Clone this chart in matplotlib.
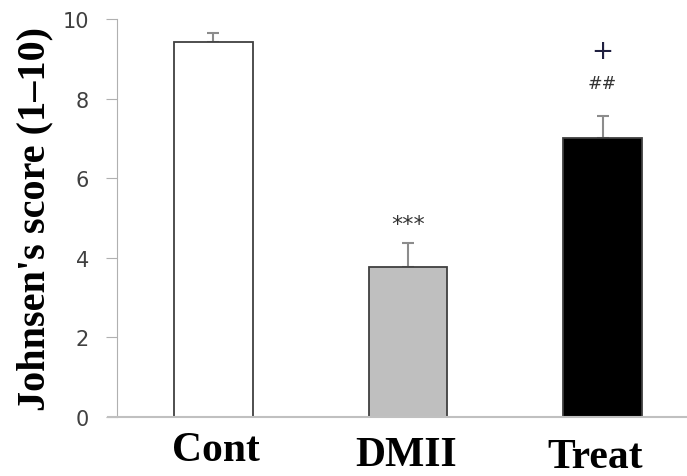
import numpy as np
import matplotlib.pyplot as plt
import matplotlib.transforms as mtransforms

# data
groups = ['Cont', 'DMII', 'Treat']
scores = [9.42, 3.78, 7.0]
errors = [0.23, 0.6, 0.56]
colors = ['white', '#bfbfbf', 'black']
marks = ['', '***', '##']

fig = plt.figure(figsize=(6.87, 4.77), dpi=100)
ax = fig.add_axes([108 / 687, 1 - 418 / 477, 1 - 108 / 687, (418 - 20) / 477])

x = np.arange(len(groups))
ax.bar(x, scores, width=0.405, color=colors, edgecolor='#404040', linewidth=1.3, zorder=2)
ax.errorbar(x, scores, yerr=[[0, 0, 0], errors], fmt='none', ecolor='#8c8c8c',
            elinewidth=1.5, capsize=4, capthick=1.5, zorder=1)

ax.set_xlim(-0.542, 2.434)
ax.set_ylim(0, 10)
ax.set_yticks([0, 2, 4, 6, 8, 10])

for s in ['top', 'right']:
    ax.spines[s].set_visible(False)
ax.spines['left'].set_position(('axes', 0.0155))
ax.spines['left'].set_color('#b0b0b0')
ax.spines['bottom'].set_color('#c0c0c0')
ax.spines['bottom'].set_linewidth(1.5)
ax.tick_params(axis='y', colors='#b0b0b0', length=8, labelcolor='#404040', labelsize=15, pad=12)
ax.tick_params(axis='x', length=0, pad=10)

ax.set_xticks(x)
ax.set_xticklabels(groups, fontfamily='Liberation Serif', fontweight='bold', fontsize=30)
# labels are not quite aligned in the original
shifts = [(2, 0), (-2, -5), (-7, -7)]
for lab, (dx, dy) in zip(ax.get_xticklabels(), shifts):
    lab.set_transform(lab.get_transform() + mtransforms.ScaledTranslation(dx / 100, dy / 100, fig.dpi_scale_trans))

ax.set_ylabel("Johnsen's score (1\u201310)", fontfamily='Liberation Serif', fontweight='bold',
              fontsize=29, labelpad=7)

ax.text(x[1], 4.85, marks[1], ha='center', va='center', fontsize=16, color='#333333')
ax.text(x[2], 8.4, marks[2], ha='center', va='center', fontsize=12.5, color='#333333')
ax.text(x[2], 9.2, '+', ha='center', va='center', fontsize=19, color='#202040')

fig.savefig('out.png', dpi=100)
